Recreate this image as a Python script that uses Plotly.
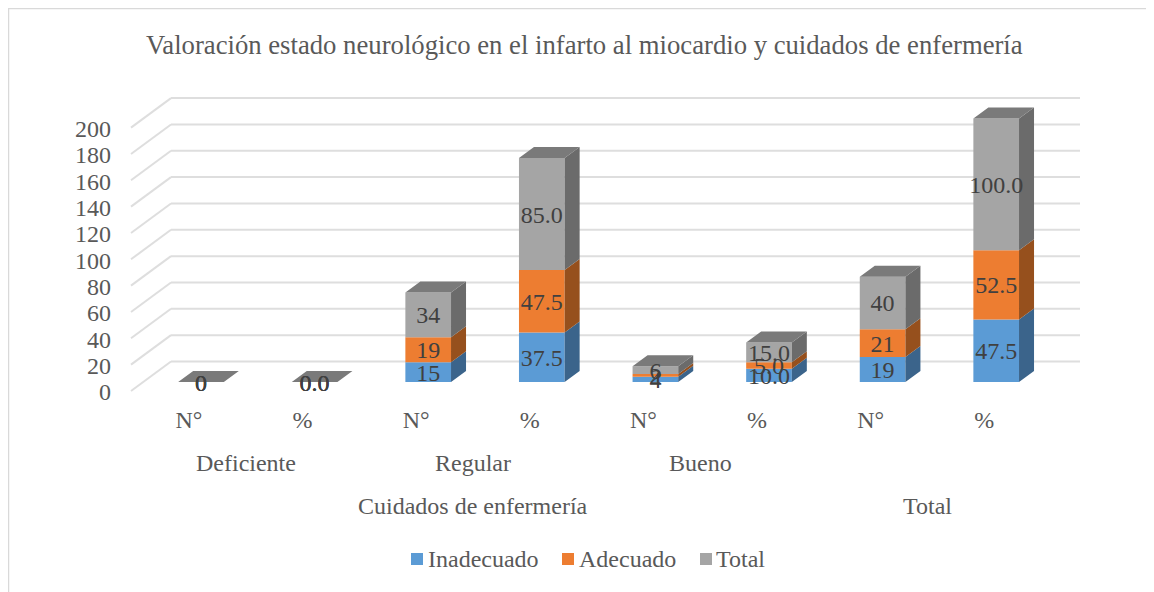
import plotly.graph_objects as go

TITLE = "Valoración estado neurológico en el infarto al miocardio y cuidados de enfermería"
MEASURES = ["N°", "%", "N°", "%", "N°", "%", "N°", "%"]
LEVELS = ["Deficiente", "Regular", "Bueno"]
GROUPS = ["Cuidados de enfermería", "Total"]
INADECUADO = [0, 0.0, 15, 37.5, 4, 10.0, 19, 47.5]
ADECUADO = [0, 0.0, 19, 47.5, 2, 5.0, 21, 52.5]
TOTAL = [0, 0.0, 34, 85.0, 6, 15.0, 40, 100.0]
Y_TICKS = list(range(0, 201, 20))
NAMES = ["Inadecuado", "Adecuado", "Total"]

FRONT = ["#5b9bd5", "#ed7d31", "#a5a5a5"]
SIDE = ["#3b648b", "#96501d", "#6b6b6b"]
TOP_COLOR = "#7a7a7a"
GRID = "#dedede"
TEXT = "#595959"
LABEL = "#404040"
FONT = "Liberation Serif"

W, H = 1146, 584      # page body keeps an 8 px margin
OX, OY = 8, 8
PX_X = 113.6          # px per category
PX_Y = 1.317          # px per value unit
X0 = 201 - OX         # fig px of category 0
Y0 = 391 - OY         # fig px of value 0 (front plane)
BAR_W = 0.402
DX_BAR, DY_BAR = 15 / PX_X, 11 / PX_Y
FLOOR = 9 / PX_Y      # bar baseline sits behind front plane
WALL_DX, WALL_DY = 40 / PX_X, 29.5 / PX_Y
FRONT_LEFT = (131 - OX - X0) / PX_X
WALL_RIGHT = (1080 - OX - X0) / PX_X
TICK_SHIFT = -12 / PX_X
LABEL_DROP = 2.5 / PX_Y


def fy(py):
    return 1 - (py - OY) / H


def fx(px):
    return (px - OX) / W


series = [INADECUADO, ADECUADO, TOTAL]
xs = list(range(len(MEASURES)))

shapes = []
for t in Y_TICKS:
    shapes.append(dict(type="line", layer="below", xref="x", yref="y", x0=FRONT_LEFT, y0=t,
                       x1=FRONT_LEFT + WALL_DX, y1=t + WALL_DY, line=dict(color=GRID, width=2)))
    shapes.append(dict(type="line", layer="below", xref="x", yref="y", x0=FRONT_LEFT + WALL_DX, y0=t + WALL_DY,
                       x1=WALL_RIGHT, y1=t + WALL_DY, line=dict(color=GRID, width=2)))
# chart-area border
shapes.append(dict(type="line", xref="paper", yref="paper", x0=0, x1=0, y0=0, y1=1,
                   line=dict(color="#d9d9d9", width=2.5)))
shapes.append(dict(type="line", xref="paper", yref="paper", x0=0, x1=1, y0=1, y1=1,
                   line=dict(color="#d9d9d9", width=2.5)))

fig = go.Figure()
bases = [0.0] * len(xs)
for name, vals, front, side in zip(NAMES, series, FRONT, SIDE):
    starts = [b + FLOOR for b in bases]
    fig.add_trace(go.Bar(x=xs, y=vals, base=starts, width=BAR_W, name=name,
                         marker=dict(color=front, line=dict(width=0)), showlegend=False))
    sx, sy = [], []
    for i, v in enumerate(vals):
        r = i + BAR_W / 2
        sx += [r, r + DX_BAR, r + DX_BAR, r, r, None]
        sy += [starts[i], starts[i] + DY_BAR, starts[i] + v + DY_BAR, starts[i] + v, starts[i], None]
    fig.add_trace(go.Scatter(x=sx, y=sy, mode="lines", fill="toself", fillcolor=side,
                             line=dict(width=0), showlegend=False, hoverinfo="skip"))
    bases = [b + v for b, v in zip(bases, vals)]

tx, ty = [], []
for i, b in enumerate(bases):
    l, r = i - BAR_W / 2, i + BAR_W / 2
    top = b + FLOOR
    tx += [l, r, r + DX_BAR, l + DX_BAR, l, None]
    ty += [top, top, top + DY_BAR, top + DY_BAR, top, None]
fig.add_trace(go.Scatter(x=tx, y=ty, mode="lines", fill="toself", fillcolor=TOP_COLOR,
                         line=dict(width=0), showlegend=False, hoverinfo="skip"))

bases = [0.0] * len(xs)
for vals in series:
    labels = [f"{v:.0f}" if m == "N°" else f"{v:.1f}" for v, m in zip(vals, MEASURES)]
    fig.add_trace(go.Scatter(x=xs, y=[b + FLOOR + v / 2 - LABEL_DROP for b, v in zip(bases, vals)], mode="text",
                             text=labels, textposition="middle center",
                             textfont=dict(family=FONT, size=24, color=LABEL),
                             showlegend=False, hoverinfo="skip"))
    bases = [b + v for b, v in zip(bases, vals)]

tick_pos = [i + TICK_SHIFT for i in xs]
annotations = []
small = dict(family=FONT, size=24, color=TEXT)
for k, lab in enumerate(LEVELS):
    cx = (tick_pos[2 * k] + tick_pos[2 * k + 1]) / 2
    annotations.append(dict(text=lab, x=cx, xref="x", y=fy(463), yref="paper", yanchor="middle",
                            showarrow=False, font=small))
annotations.append(dict(text=GROUPS[0], x=sum(tick_pos[:6]) / 6, xref="x", y=fy(506), yref="paper",
                        yanchor="middle", showarrow=False, font=small))
annotations.append(dict(text=GROUPS[1], x=sum(tick_pos[6:]) / 2, xref="x", y=fy(506), yref="paper",
                        yanchor="middle", showarrow=False, font=small))
annotations.append(dict(text=TITLE, x=fx(584.5), xref="paper", y=fy(45), yref="paper", yanchor="middle",
                        showarrow=False, font=dict(family=FONT, size=26.7, color=TEXT)))

# legend: swatch left edge and text left edge, in page px
LEG_SWATCH = [411, 562, 700]
LEG_TEXT = [426, 577, 714]
for name, color, sw, te in zip(NAMES, FRONT, LEG_SWATCH, LEG_TEXT):
    shapes.append(dict(type="rect", xref="paper", yref="paper", x0=fx(sw), x1=fx(sw + 12),
                       y0=fy(565), y1=fy(553), fillcolor=color, line=dict(width=0)))
    annotations.append(dict(text=name, x=fx(te), xref="paper", xanchor="left", y=fy(559), yref="paper",
                            yanchor="middle", showarrow=False, font=small))

fig.update_layout(
    width=W, height=H, margin=dict(l=0, r=0, t=0, b=0),
    paper_bgcolor="white", plot_bgcolor="rgba(0,0,0,0)",
    barmode="overlay", shapes=shapes, annotations=annotations, showlegend=False,
    xaxis=dict(range=[-X0 / PX_X, (W - X0) / PX_X], domain=[0, 1], anchor="free", position=fy(403),
               tickmode="array", tickvals=tick_pos, ticktext=MEASURES, showgrid=False, zeroline=False,
               showline=False, ticks="", tickfont=small, tickangle=0),
    yaxis=dict(range=[(Y0 - H) / PX_Y, Y0 / PX_Y], domain=[0, 1], anchor="free", position=fx(111),
               tickmode="array", tickvals=Y_TICKS, showgrid=False, zeroline=False, showline=False,
               ticks="", tickfont=small, ticklabelshift=1),
)
fig.write_html("out.html")
